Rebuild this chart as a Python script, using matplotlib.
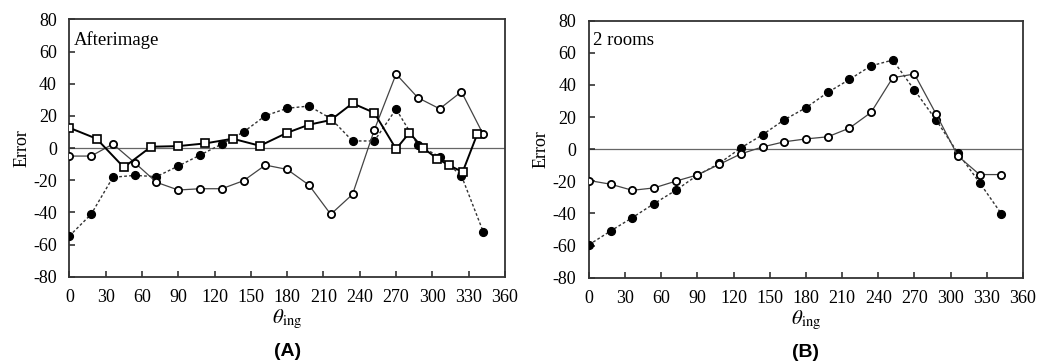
#!/usr/bin/env python3
"""Error vs theta_ing for the afterimage and 2-room conditions."""

import matplotlib

matplotlib.use("Agg")
import matplotlib.pyplot as plt

plt.rcParams["font.family"] = ["Liberation Serif", "DejaVu Serif"]
plt.rcParams["mathtext.fontset"] = "stix"
plt.rcParams["axes.unicode_minus"] = False

# panel A: afterimage
a_sq_x = [0, 22.5, 45, 67.5, 90, 112.5, 135, 157.5, 180, 198, 216, 234, 252,
          270, 281, 292, 304, 314, 325, 337]
a_sq_y = [12.6, 5.8, -12.0, 0.8, 1.2, 2.9, 5.8, 1.4, 9.5, 14.5, 17.4, 27.8, 21.9,
          -0.6, 9.5, 0.2, -6.6, -10.8, -14.9, 8.5]
theta = [0, 18, 36, 54, 72, 90, 108, 126, 144, 162, 180, 198, 216, 234, 252,
         270, 288, 306, 324, 342]
a_open_y = [-5.0, -5.0, 2.5, -9.1, -21.3, -26.1, -25.3, -25.3, -20.3, -10.6,
            -13.3, -23.0, -41.2, -28.8, 11.2, 46.0, 31.3, 24.4, 35.0, 8.5]
a_fill_y = [-54.7, -41.2, -18.2, -17.0, -17.8, -11.2, -4.4, 2.5, 10.0, 20.1,
            24.7, 26.1, 18.4, 4.4, 4.4, 24.2, 1.9, -5.4, -17.2, -52.0]

# panel B: 2 rooms
b_open_y = [-19.5, -21.8, -25.6, -24.1, -19.9, -16.0, -9.5, -2.9, 1.4, 4.6,
            6.4, 7.7, 13.1, 22.9, 44.5, 46.8, 21.8, -4.2, -15.8, -15.8]
b_fill_y = [-59.5, -50.9, -42.6, -33.9, -25.6, -16.2, -8.9, 0.8, 9.0, 18.3,
            25.8, 35.3, 43.4, 51.9, 55.5, 36.8, 18.1, -2.3, -20.8, -40.1]

X_TICKS = list(range(0, 361, 30))
Y_TICKS = list(range(-80, 81, 20))

OPEN = dict(color="#444444", linewidth=0.9, marker="o", markersize=5.2,
            markerfacecolor="white", markeredgecolor="black", markeredgewidth=1.3)
FILL = dict(color="#333333", linewidth=1.0, linestyle=(0, (2, 1.6)), marker="o",
            markersize=5.6, markerfacecolor="black", markeredgecolor="black")
SQUARE = dict(color="black", linewidth=1.4, marker="s", markersize=5.4,
              markerfacecolor="white", markeredgecolor="black", markeredgewidth=1.2)


def style_axes(ax, title, panel):
    ax.set_xlim(0, 360)
    ax.set_ylim(-80, 80)
    ax.set_xticks(X_TICKS)
    ax.set_yticks(Y_TICKS)
    ax.tick_params(direction="in", length=4, width=1.1, labelsize=13,
                   color="#222222")
    ax.tick_params(axis="x", pad=9)
    ax.tick_params(axis="y", pad=9)
    for sp in ax.spines.values():
        sp.set_linewidth(1.3)
        sp.set_color("#333333")
    ax.axhline(0, color="#666666", linewidth=0.9, zorder=1)
    ax.set_ylabel("Error", fontsize=13, labelpad=2)
    ax.set_xlabel(r"$\theta_{\rm ing}$", fontsize=15, labelpad=1)
    ax.text(0.01, 0.955, title, transform=ax.transAxes, fontsize=13.5,
            va="top", ha="left")
    ax.text(0.5, -0.29, panel, transform=ax.transAxes, fontsize=14,
            fontweight="bold", family="Liberation Sans", ha="center", va="center")


fig = plt.figure(figsize=(10.38, 3.63), dpi=100)
ax_a = fig.add_axes([0.0668, 0.2377, 0.4197, 0.709])
ax_b = fig.add_axes([0.5674, 0.235, 0.4181, 0.708])

ax_a.plot(theta, a_fill_y, zorder=3, **FILL)
ax_a.plot(theta, a_open_y, zorder=4, **OPEN)
ax_a.plot(a_sq_x, a_sq_y, zorder=5, **SQUARE)
style_axes(ax_a, "Afterimage", "(A)")

ax_b.plot(theta, b_fill_y, zorder=3, **FILL)
ax_b.plot(theta, b_open_y, zorder=4, **OPEN)
style_axes(ax_b, "2 rooms", "(B)")

fig.savefig("out.png", dpi=100)
